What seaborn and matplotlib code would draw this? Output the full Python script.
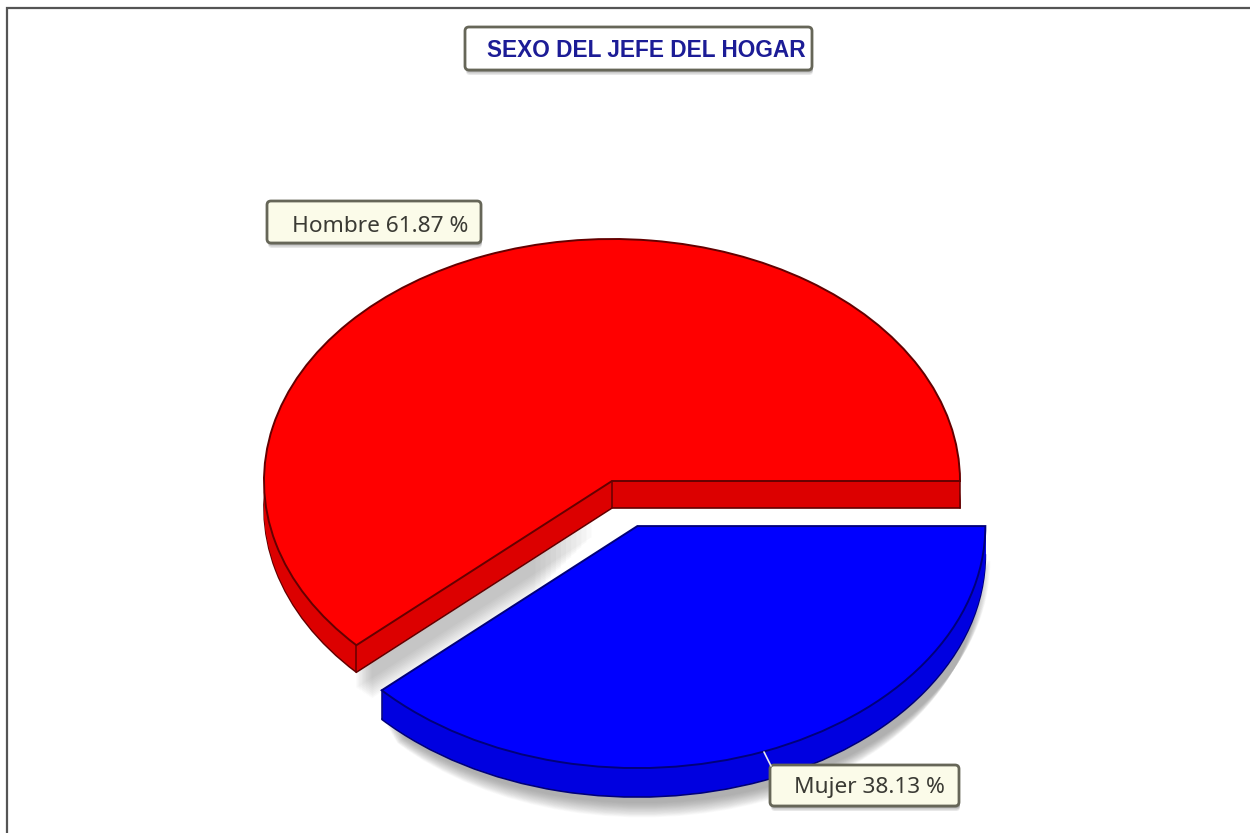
import numpy as np
import matplotlib
matplotlib.use("Agg")
import matplotlib.pyplot as plt
from matplotlib.patches import FancyBboxPatch
import seaborn as sns

categories = ["Hombre", "Mujer"]
shares = [61.87, 38.13]
label_texts = ["Hombre 61.87 %", "Mujer 38.13 %"]
title_text = "SEXO DEL JEFE DEL HOGAR"

sns.set_theme(style="white")
plt.rcParams["font.family"] = ["Noto Sans", "DejaVu Sans"]
top_colors = sns.color_palette(["#FF0000", "#0000FF"])
wall_colors = sns.color_palette(["#DC0000", "#0000E0"])
edge_colors = ["#640000", "#00007A"]

W, H = 1250, 833
CX, CY, RX, RY = 612, 481, 348, 242
DEPTHS = [27, 29]
EXPLODE = [0.0, 0.2]

fig = plt.figure(figsize=(W / 100, H / 100), dpi=100, facecolor="white")
ax = fig.add_axes([0, 0, 1, 1])


def layer(idx, color, dy=0.0, dx=0.0, radius=1.0, ec="none", lw=0.0, alpha=None):
    """One elliptical pie slice, shifted by dx/dy pixels."""
    cols = ["none", "none"]
    cols[idx] = color
    wedges, _ = ax.pie(
        shares, explode=EXPLODE, colors=cols, startangle=0, counterclock=True,
        radius=radius, center=(dx / RX, -dy / RY),
        wedgeprops=dict(linewidth=lw, edgecolor="none"),
    )
    w = wedges[idx]
    w.set_edgecolor(ec)
    if alpha is not None:
        w.set_alpha(alpha)
    wedges[1 - idx].set_visible(False)
    return w


# soft drop shadow under the detached slice
n = 20
for k in range(n):
    f = k / (n - 1)
    layer(1, "#555555", dx=5, dy=59 - 24 * f, radius=0.96 + 0.04 * f, alpha=0.026)

# soft shadow of the large slice, seen only inside the gap between the slices
cut = 2 * np.pi * shares[0] / sum(shares)
n = 12
for k in range(n):
    f = k / (n - 1)
    t0, t1 = 0.30 - 0.22 * f, 0.94 + 0.06 * f
    drop = (DEPTHS[0] + 36 - 20 * f) / RY
    xa, ya = t0 * np.cos(cut), t0 * np.sin(cut)
    xb, yb = t1 * np.cos(cut), t1 * np.sin(cut)
    ax.fill([xa, xb, xb, xa], [ya, yb, yb - drop, ya - drop],
            color="#666666", alpha=0.035, lw=0, zorder=1)

# extruded slices
for idx in (0, 1):
    depth = DEPTHS[idx]
    layer(idx, wall_colors[idx], dy=depth, ec=edge_colors[idx], lw=1.2)
    for d in range(depth - 1, 0, -1):
        layer(idx, wall_colors[idx], dy=d)
    w = layer(idx, top_colors[idx], ec=edge_colors[idx], lw=1.4)
    # vertical corner lines of the wall
    cx0, cy0 = w.center
    angles = [np.deg2rad(w.theta1), np.deg2rad(w.theta2)]
    xs = [cx0] + [cx0 + np.cos(a) for a in angles]
    ys = [cy0] + [cy0 + np.sin(a) for a in angles]
    for x, y in zip(xs, ys):
        if idx == 0 or y < cy0 - 0.01:
            ax.plot([x, x], [y, y - depth / RY], color=edge_colors[idx], lw=1.1, zorder=2)

ax.set_aspect("auto")
ax.set_xlim(-CX / RX, (W - CX) / RX)
ax.set_ylim((CY - H) / RY, CY / RY)
ax.axis("off")

# overlay in pixel units: frame and labels
ov = fig.add_axes([0, 0, 1, 1], facecolor="none")
ov.set_xlim(0, W)
ov.set_ylim(H, 0)
ov.axis("off")
ov.plot([7, 7, W], [H, 8, 8], color="#555555", lw=1.6, solid_joinstyle="miter")
ov.plot([764, 771], [752, 766], color="#E8E8F0", lw=1.2)


def box(x0, y0, x1, y1, fc):
    for s, a in ((5, 0.12), (3.5, 0.18), (2, 0.25)):
        ov.add_patch(FancyBboxPatch((x0 + 1, y0 + s), x1 - x0, y1 - y0,
                                    boxstyle="round,pad=0,rounding_size=4",
                                    fc="#444444", ec="none", alpha=a))
    ov.add_patch(FancyBboxPatch((x0, y0), x1 - x0, y1 - y0,
                                boxstyle="round,pad=0,rounding_size=4",
                                fc=fc, ec="#666658", lw=2))


box(465, 27, 812, 70, "white")
ov.text(646, 50, title_text, ha="center", va="center", fontsize=16.25,
        fontweight="bold", family=["Liberation Sans", "DejaVu Sans"], color="#1C1C96")
box(267, 201, 481, 243, "#FBFBE9")
ov.text(380, 226, label_texts[0], ha="center", va="center", fontsize=16.3, color="#3A3A34")
box(770, 765, 959, 806, "#FBFBE9")
ov.text(869, 787, label_texts[1], ha="center", va="center", fontsize=16.3, color="#3A3A34")

fig.savefig("out.png", dpi=100, facecolor="white")
